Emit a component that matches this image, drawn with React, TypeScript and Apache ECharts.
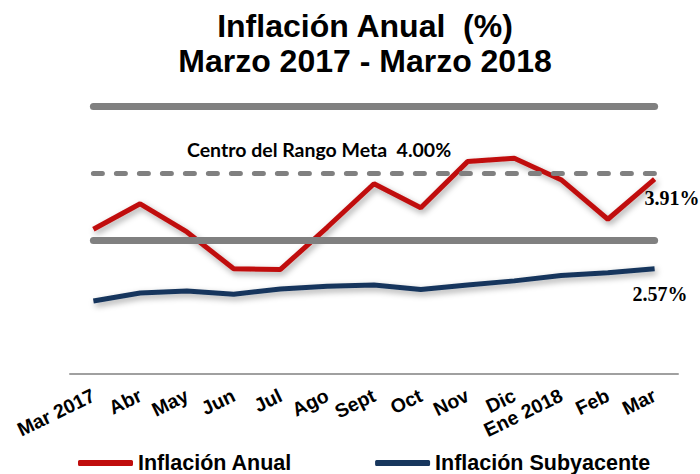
import React, { useEffect, useRef } from "react";
import * as echarts from "echarts";

const categories = ["Mar 2017", "Abr", "May", "Jun", "Jul", "Ago", "Sept", "Oct", "Nov", "Dic", "Ene 2018", "Feb", "Mar"];
const inflacionAnual = [3.16, 3.54, 3.12, 2.57, 2.56, 3.19, 3.84, 3.48, 4.17, 4.22, 3.9, 3.31, 3.91];
const inflacionSubyacente = [2.09, 2.21, 2.24, 2.19, 2.27, 2.31, 2.33, 2.26, 2.33, 2.39, 2.47, 2.51, 2.57];
const rangoSuperior = 5;
const rangoCentro = 4;
const rangoInferior = 3;
const seriesNames = ["Inflación Anual", "Inflación Subyacente"];

const RED = "#c00d0d";
const BLUE = "#17365d";
const GRAY = "#808080";

function endLabel(offset: number[]) {
  return {
    show: true,
    offset,
    formatter: (p: any) => `${Number(p.value).toFixed(2)}%`,
    fontFamily: "Liberation Serif",
    fontWeight: "bold",
    fontSize: 20,
    color: "#000",
  };
}

export default function App() {
  const ref = useRef<HTMLDivElement>(null);
  useEffect(() => {
    if (!ref.current) return;
    const chart = echarts.init(ref.current, null, { renderer: "svg" });
    const first = categories[0];
    const last = categories[categories.length - 1];
    const shadow = { shadowColor: "rgba(0,0,0,0.35)", shadowBlur: 6, shadowOffsetX: 2, shadowOffsetY: 3 };
    chart.setOption({
      animation: false,
      backgroundColor: "#fff",
      legend: {
        data: seriesNames,
        top: 447,
        left: 73,
        icon: "roundRect",
        itemWidth: 55,
        itemHeight: 6,
        itemGap: 83,
        textStyle: { fontFamily: "Liberation Sans", fontWeight: "bold", fontSize: 21.5, color: "#000" },
      },
      grid: { left: 70, right: 22, top: 72.5, bottom: 100 },
      xAxis: {
        type: "category",
        data: categories,
        axisLine: { lineStyle: { color: "#a0a0a0", width: 2 } },
        axisTick: { show: false },
        axisLabel: {
          interval: 0,
          rotate: 26,
          margin: 20,
          fontFamily: "Liberation Sans",
          fontWeight: "bold",
          fontSize: 19.5,
          color: "#000",
        },
      },
      yAxis: { type: "value", min: 1, max: 5.5, show: false, splitLine: { show: false } },
      graphic: [
        {
          type: "text",
          x: 365,
          y: 8,
          style: {
            text: "Inflación Anual  (%)\nMarzo 2017 - Marzo 2018",
            textAlign: "center",
            textVerticalAlign: "top",
            fontFamily: "Liberation Sans",
            fontWeight: "bold",
            fontSize: 32,
            lineHeight: 35,
            fill: "#000",
          },
        },
        {
          type: "text",
          left: 187,
          top: 139,
          style: {
            text: "Centro del Rango Meta  4.00%",
            fontFamily: "Lato",
            fontWeight: "bold",
            fontSize: 19.5,
            fill: "#000",
          },
        },
      ],
      series: [
        {
          name: seriesNames[0],
          type: "line",
          data: inflacionAnual,
          symbol: "none",
          color: RED,
          lineStyle: { color: RED, width: 5, ...shadow },
          endLabel: endLabel([-18, 19]),
          z: 2,
        },
        {
          name: seriesNames[1],
          type: "line",
          data: inflacionSubyacente,
          symbol: "none",
          color: BLUE,
          lineStyle: { color: BLUE, width: 5, ...shadow },
          endLabel: endLabel([-30, 25]),
          z: 2,
        },
        {
          name: "Rango",
          type: "line",
          data: [],
          z: 3,
          markLine: {
            silent: true,
            symbol: "none",
            label: { show: false },
            data: [
              [
                { coord: [first, rangoSuperior], lineStyle: { color: GRAY, width: 7, type: "solid", cap: "round" } },
                { coord: [last, rangoSuperior] },
              ],
              [
                { coord: [first, rangoCentro], lineStyle: { color: GRAY, width: 5, type: [9, 14], cap: "round" } },
                { coord: [last, rangoCentro] },
              ],
              [
                { coord: [first, rangoInferior], lineStyle: { color: GRAY, width: 7, type: "solid", cap: "round" } },
                { coord: [last, rangoInferior] },
              ],
            ],
          },
        },
      ],
    });
    return () => chart.dispose();
  }, []);
  return <div ref={ref} style={{ width: 700, height: 474, position: "absolute", left: 0, top: 0 }} />;
}
